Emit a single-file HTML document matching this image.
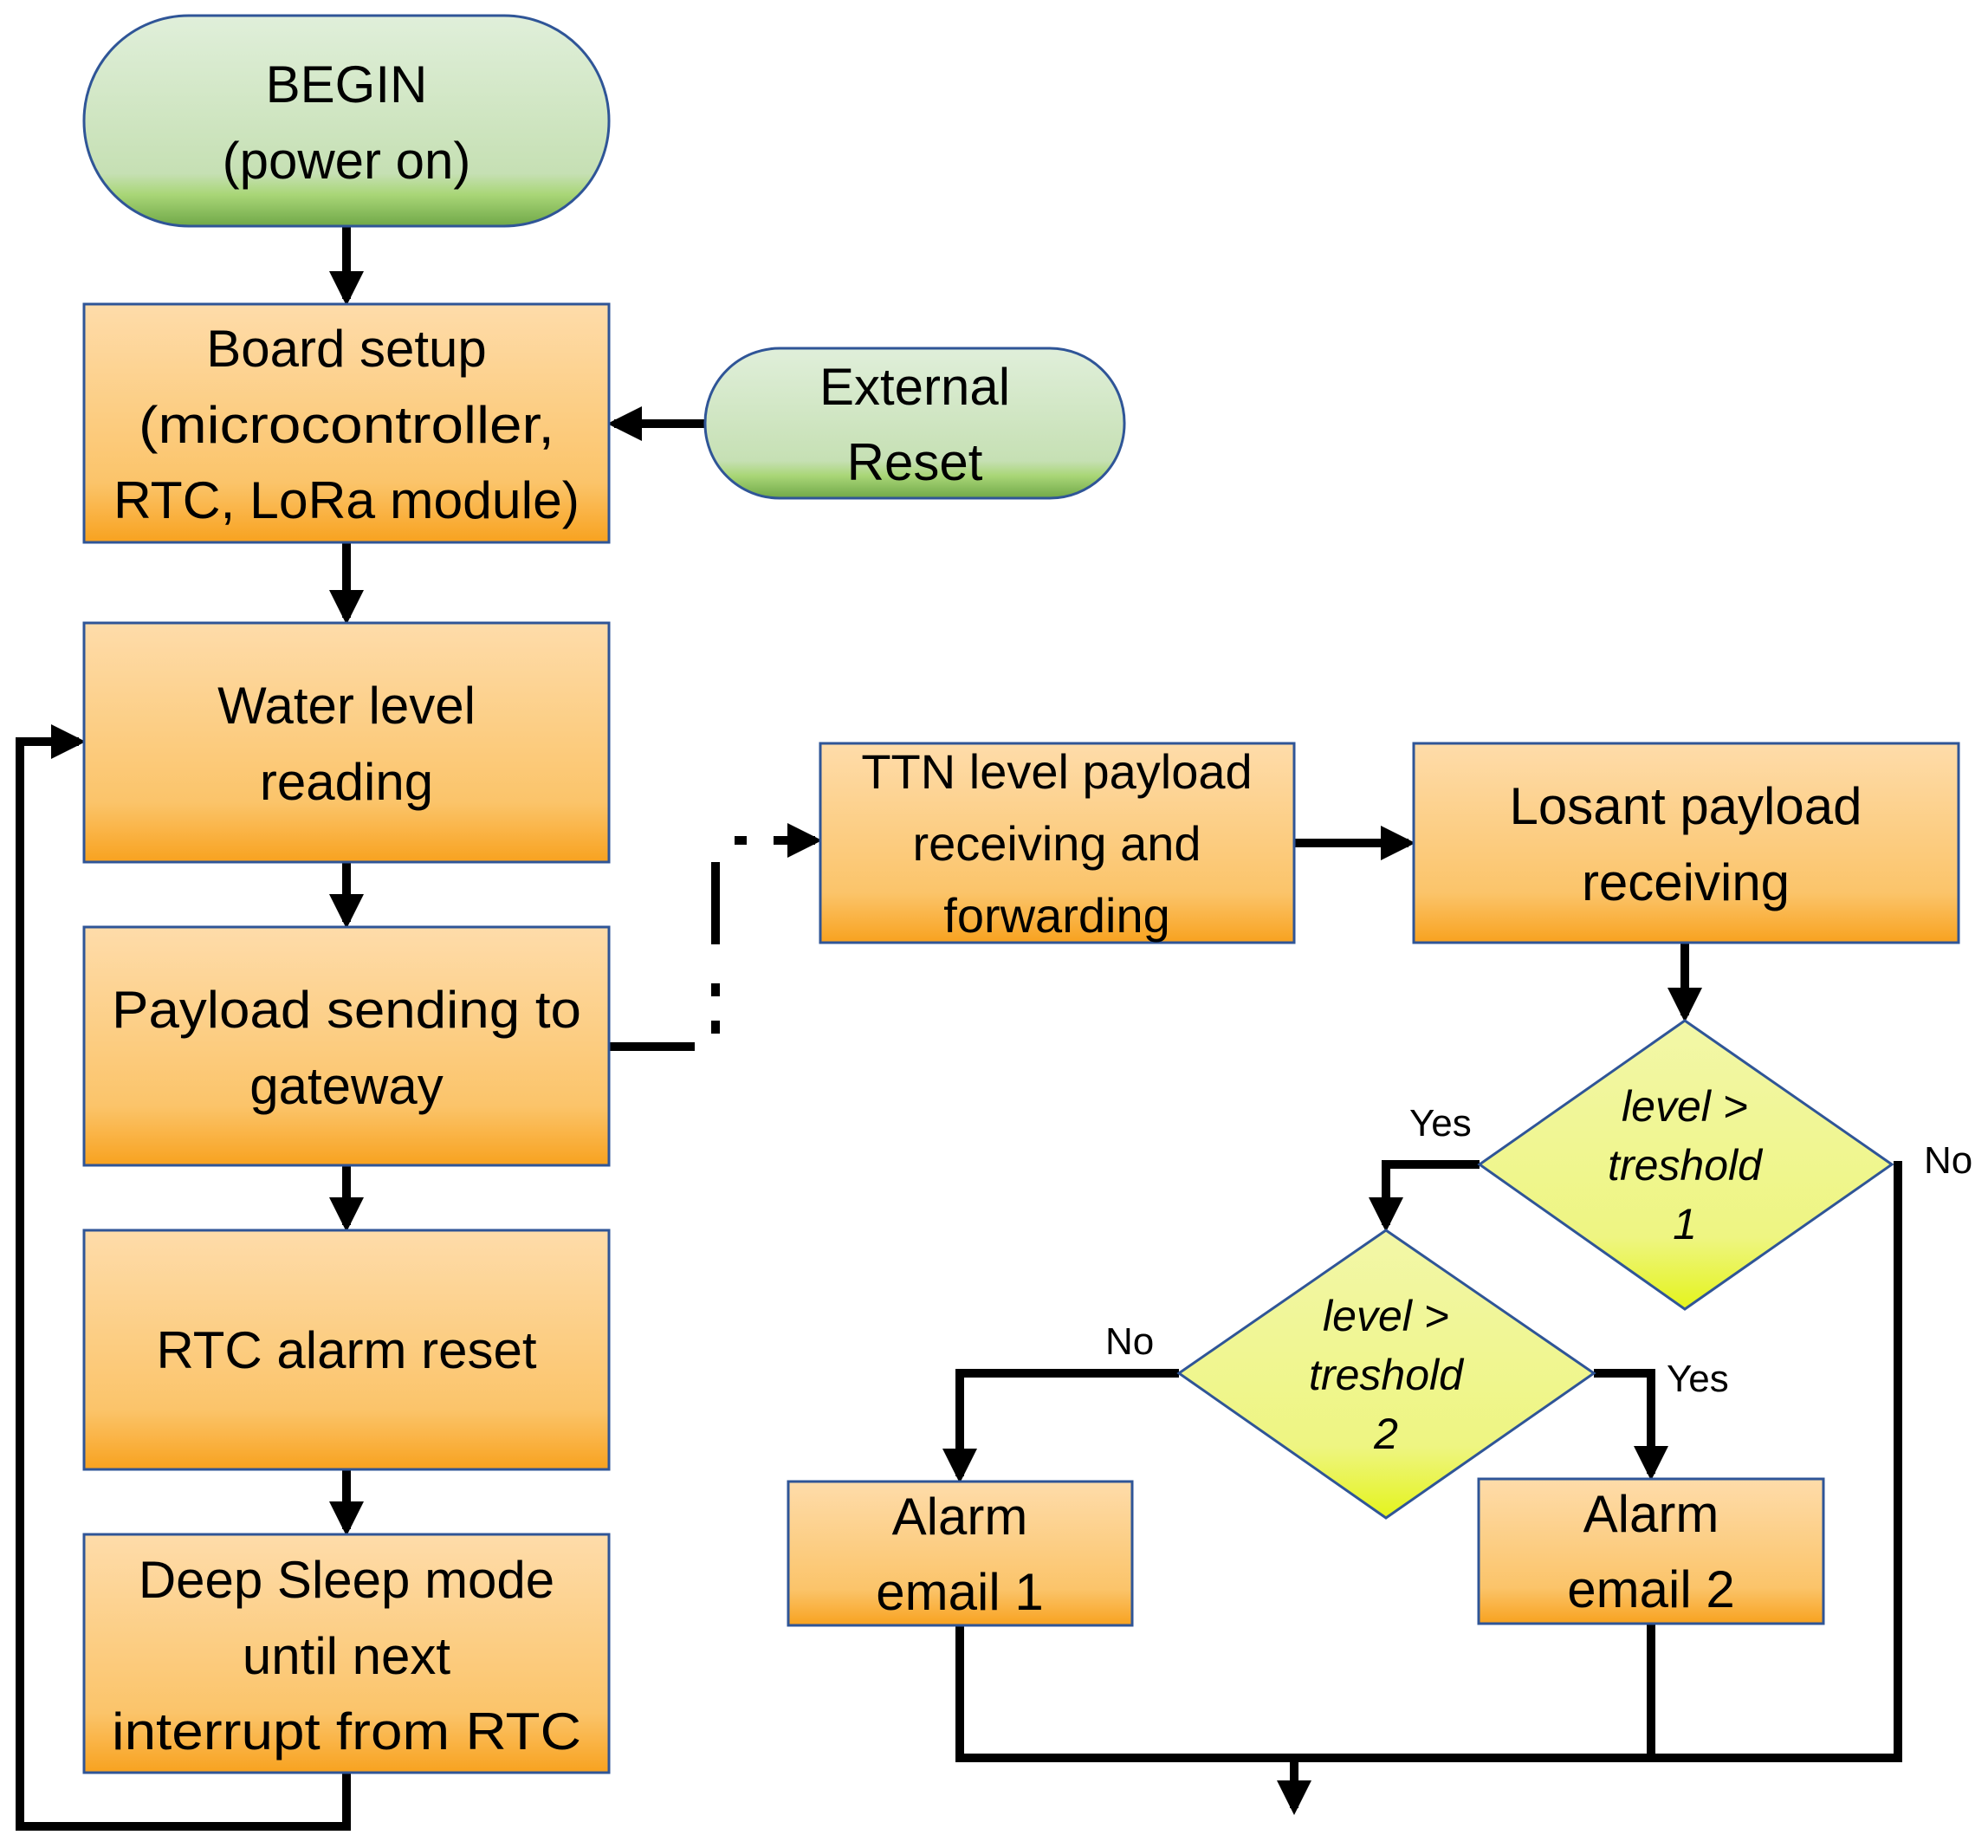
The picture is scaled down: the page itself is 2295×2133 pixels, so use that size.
<!DOCTYPE html>
<html><head><meta charset="utf-8"><style>
html,body{margin:0;padding:0;background:#fff}
svg{display:block}
text{font-family:"Liberation Sans",sans-serif;fill:#000}
</style></head><body>
<svg width="2295" height="2133" viewBox="0 0 2295 2133" xmlns="http://www.w3.org/2000/svg">
<defs>
<linearGradient id="og" x1="0" y1="0" x2="0" y2="1">
<stop offset="0" stop-color="#fedcaa"/><stop offset="0.75" stop-color="#fbc46a"/><stop offset="1" stop-color="#f8a21f"/></linearGradient>
<linearGradient id="gg" x1="0" y1="0" x2="0" y2="1">
<stop offset="0" stop-color="#e0efda"/><stop offset="0.75" stop-color="#c6e0b4"/><stop offset="0.85" stop-color="#a9d677"/><stop offset="1" stop-color="#70a848"/></linearGradient>
<linearGradient id="yg" x1="0" y1="0" x2="0" y2="1">
<stop offset="0" stop-color="#f2f7a8"/><stop offset="0.75" stop-color="#eef582"/><stop offset="1" stop-color="#e4f41c"/></linearGradient>
<marker id="ah" markerWidth="4" markerHeight="4" refX="3.2" refY="2" orient="auto" markerUnits="strokeWidth">
<path d="M0,0 L4,2 L0,4 Z" fill="#000"/></marker>
</defs>

<g stroke="#000" stroke-width="10" fill="none">
<line x1="400" y1="261" x2="400" y2="345" marker-end="url(#ah)"/>
<line x1="814" y1="489" x2="709" y2="489" marker-end="url(#ah)"/>
<line x1="400" y1="626" x2="400" y2="713" marker-end="url(#ah)"/>
<line x1="400" y1="995" x2="400" y2="1064" marker-end="url(#ah)"/>
<line x1="400" y1="1345" x2="400" y2="1414" marker-end="url(#ah)"/>
<line x1="400" y1="1696" x2="400" y2="1765" marker-end="url(#ah)"/>
<polyline points="400,2046 400,2108 23,2108 23,856 91,856" marker-end="url(#ah)"/>
<line x1="703" y1="1208" x2="802" y2="1208"/>
<line x1="826" y1="995" x2="826" y2="1090"/>
<line x1="826" y1="1135" x2="826" y2="1150"/>
<line x1="826" y1="1178" x2="826" y2="1193"/>
<line x1="848" y1="970" x2="862" y2="970"/>
<line x1="893" y1="970" x2="941" y2="970" marker-end="url(#ah)"/>
<line x1="1494" y1="973" x2="1626" y2="973" marker-end="url(#ah)"/>
<line x1="1945" y1="1088" x2="1945" y2="1172" marker-end="url(#ah)"/>
<polyline points="1708,1344 1600,1344 1600,1414" marker-end="url(#ah)"/>
<polyline points="1361,1585 1108,1585 1108,1704" marker-end="url(#ah)"/>
<polyline points="1840,1585 1906,1585 1906,1701" marker-end="url(#ah)"/>
<polyline points="1108,1876 1108,2029 2191,2029 2191,1340"/>
<line x1="1906" y1="1874" x2="1906" y2="2029"/>
<line x1="1494" y1="2029" x2="1494" y2="2087" marker-end="url(#ah)"/>
</g>

<g stroke="#2f5597" stroke-width="3">
<rect x="97" y="18" width="606" height="243" rx="121" fill="url(#gg)"/>
<rect x="814" y="402" width="484" height="173" rx="86" fill="url(#gg)"/>
<rect x="97" y="351" width="606" height="275" fill="url(#og)"/>
<rect x="97" y="719" width="606" height="276" fill="url(#og)"/>
<rect x="97" y="1070" width="606" height="275" fill="url(#og)"/>
<rect x="97" y="1420" width="606" height="276" fill="url(#og)"/>
<rect x="97" y="1771" width="606" height="275" fill="url(#og)"/>
<rect x="947" y="858" width="547" height="230" fill="url(#og)"/>
<rect x="1632" y="858" width="629" height="230" fill="url(#og)"/>
<rect x="910" y="1710" width="397" height="166" fill="url(#og)"/>
<rect x="1707" y="1707" width="398" height="167" fill="url(#og)"/>
<polygon points="1945,1178 2184,1344 1945,1511 1708,1344" fill="url(#yg)"/>
<polygon points="1600,1420 1840,1585 1600,1752 1361,1585" fill="url(#yg)"/>
</g>

<g font-size="60" text-anchor="middle">
<text x="400" y="118">BEGIN</text>
<text x="400" y="206">(power on)</text>
<text x="1056" y="467">External</text>
<text x="1056" y="554">Reset</text>
<text x="400" y="423">Board setup</text>
<text x="400" y="511" textLength="480" lengthAdjust="spacingAndGlyphs">(microcontroller,</text>
<text x="400" y="598" textLength="538" lengthAdjust="spacingAndGlyphs">RTC, LoRa module)</text>
<text x="400" y="835">Water level</text>
<text x="400" y="923">reading</text>
<text x="400" y="1186" textLength="542" lengthAdjust="spacingAndGlyphs">Payload sending to</text>
<text x="400" y="1274">gateway</text>
<text x="400" y="1579">RTC alarm reset</text>
<text x="400" y="1844">Deep Sleep mode</text>
<text x="400" y="1932">until next</text>
<text x="400" y="2019" textLength="542" lengthAdjust="spacingAndGlyphs">interrupt from RTC</text>
<text x="1220" y="910" font-size="56">TTN level payload</text>
<text x="1220" y="993" font-size="56">receiving and</text>
<text x="1220" y="1076" font-size="56">forwarding</text>
<text x="1946" y="951">Losant payload</text>
<text x="1946" y="1039">receiving</text>
<text x="1108" y="1771">Alarm</text>
<text x="1108" y="1858">email 1</text>
<text x="1906" y="1768">Alarm</text>
<text x="1906" y="1855">email 2</text>
</g>
<g font-size="50" font-style="italic" text-anchor="middle">
<text x="1945" y="1294">level &gt;</text>
<text x="1945" y="1362">treshold</text>
<text x="1945" y="1430">1</text>
<text x="1600" y="1536">level &gt;</text>
<text x="1600" y="1604">treshold</text>
<text x="1600" y="1672">2</text>
</g>
<g font-size="44">
<text x="1627" y="1311">Yes</text>
<text x="2221" y="1354">No</text>
<text x="1276" y="1563">No</text>
<text x="1924" y="1606">Yes</text>
</g>
</svg>
</body></html>
